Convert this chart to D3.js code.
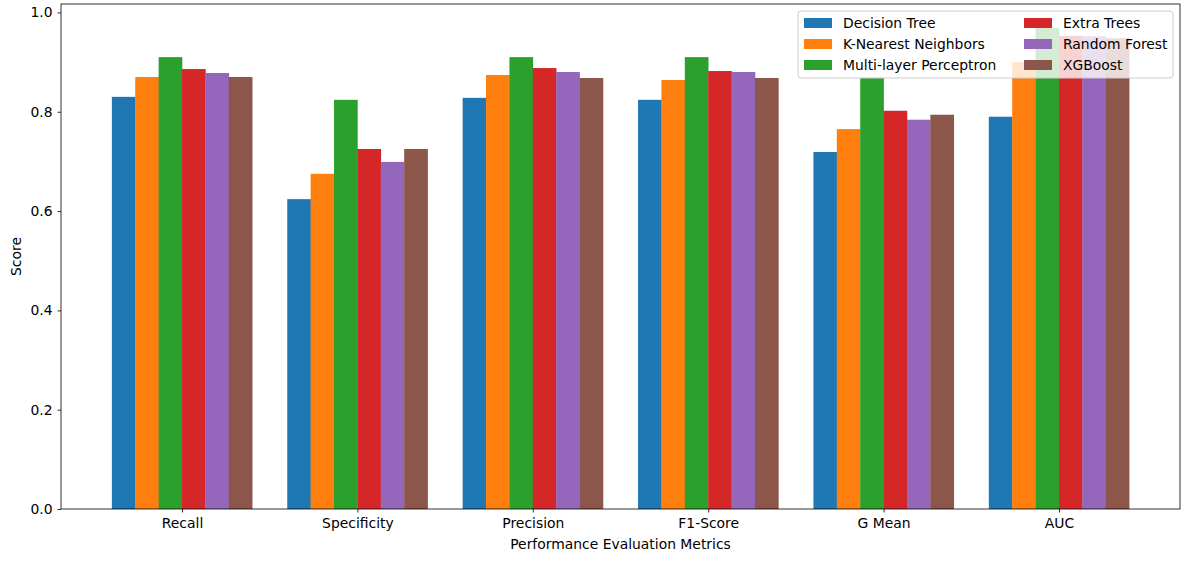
<!DOCTYPE html>
<html>
<head>
<meta charset="utf-8">
<script src="https://cdn.jsdelivr.net/npm/d3@7"></script>
<style>
  body { margin: 0; background: #fff; }
  svg { display: block; font-family: 'DejaVu Sans', sans-serif; }
</style>
</head>
<body>
<div id="chart"></div>
<script>
// Metrics on the x axis and one series per model
const metrics = ['Recall', 'Specificity', 'Precision', 'F1-Score', 'G Mean', 'AUC'];
const models = ['Decision Tree', 'K-Nearest Neighbors', 'Multi-layer Perceptron', 'Extra Trees', 'Random Forest', 'XGBoost'];
const colors = ['#1f77b4', '#ff7f0e', '#2ca02c', '#d62728', '#9467bd', '#8c564b'];

const decisionTree = [0.830, 0.624, 0.828, 0.824, 0.719, 0.790];
const knn          = [0.870, 0.675, 0.874, 0.864, 0.765, 0.900];
const mlp          = [0.910, 0.824, 0.910, 0.910, 0.868, 0.969];
const extraTrees   = [0.886, 0.725, 0.888, 0.882, 0.802, 0.953];
const randomForest = [0.878, 0.699, 0.880, 0.880, 0.784, 0.952];
const xgboost      = [0.870, 0.725, 0.868, 0.868, 0.794, 0.948];
const series = [decisionTree, knn, mlp, extraTrees, randomForest, xgboost];

const yTicks = [0, 0.2, 0.4, 0.6, 0.8, 1.0];

const W = 1189, H = 562;
const m = { left: 61, right: 9, top: 4, bottom: 53 };
const iw = W - m.left - m.right, ih = H - m.top - m.bottom;
const FS = '13.9px';

const svg = d3.select('#chart').append('svg').attr('width', W).attr('height', H);
const g = svg.append('g').attr('transform', `translate(${m.left},${m.top})`);

const groupW = 0.8, barW = groupW / models.length;
const x = d3.scaleLinear().domain([-0.69, metrics.length - 1 + 0.69]).range([0, iw]);
const y = d3.scaleLinear().domain([0, 1.017]).range([ih, 0]);

// bars
series.forEach((vals, si) => {
  g.selectAll(null).data(vals).enter().append('rect')
    .attr('x', (d, i) => x(i - groupW / 2 + si * barW))
    .attr('width', x(barW) - x(0) + 0.3)
    .attr('y', d => y(d))
    .attr('height', d => y(0) - y(d))
    .attr('fill', colors[si]);
});

// axes
const xAxis = g.append('g').attr('transform', `translate(0,${ih})`)
  .call(d3.axisBottom(x).tickValues(d3.range(metrics.length)).tickFormat(i => metrics[i]).tickSizeOuter(0).tickSize(3.5).tickPadding(5.5));
const yAxis = g.append('g')
  .call(d3.axisLeft(y).tickValues(yTicks).tickFormat(d3.format('.1f')).tickSizeOuter(0).tickSize(3.5).tickPadding(5));
[xAxis, yAxis].forEach(a => {
  a.selectAll('text').attr('font-size', FS).attr('fill', '#000').attr('font-family', 'DejaVu Sans');
  a.selectAll('line').attr('stroke', '#000').attr('stroke-width', 0.8);
  a.select('.domain').remove();
});

// frame
g.append('rect').attr('width', iw).attr('height', ih)
  .attr('fill', 'none').attr('stroke', '#000').attr('stroke-width', 0.8);

// axis labels
svg.append('text').attr('x', m.left + iw / 2).attr('y', H - 13)
  .attr('text-anchor', 'middle').attr('font-size', FS).text('Performance Evaluation Metrics');
svg.append('text').attr('transform', `translate(21,${m.top + ih / 2}) rotate(-90)`)
  .attr('text-anchor', 'middle').attr('font-size', FS).text('Score');

// legend
const lg = svg.append('g').attr('transform', 'translate(798,11)');
lg.append('rect').attr('width', 375).attr('height', 67).attr('rx', 3)
  .attr('fill', '#fff').attr('fill-opacity', 0.8).attr('stroke', '#ccc').attr('stroke-width', 1);
models.forEach((name, i) => {
  const col = Math.floor(i / 3), row = i % 3;
  const ex = 6 + col * 220, ey = 12 + row * 21;
  lg.append('rect').attr('x', ex).attr('y', ey - 5).attr('width', 28).attr('height', 10).attr('fill', colors[i]);
  lg.append('text').attr('x', ex + 39).attr('y', ey).attr('dominant-baseline', 'central')
    .attr('font-size', FS).text(name);
});
</script>
</body>
</html>
